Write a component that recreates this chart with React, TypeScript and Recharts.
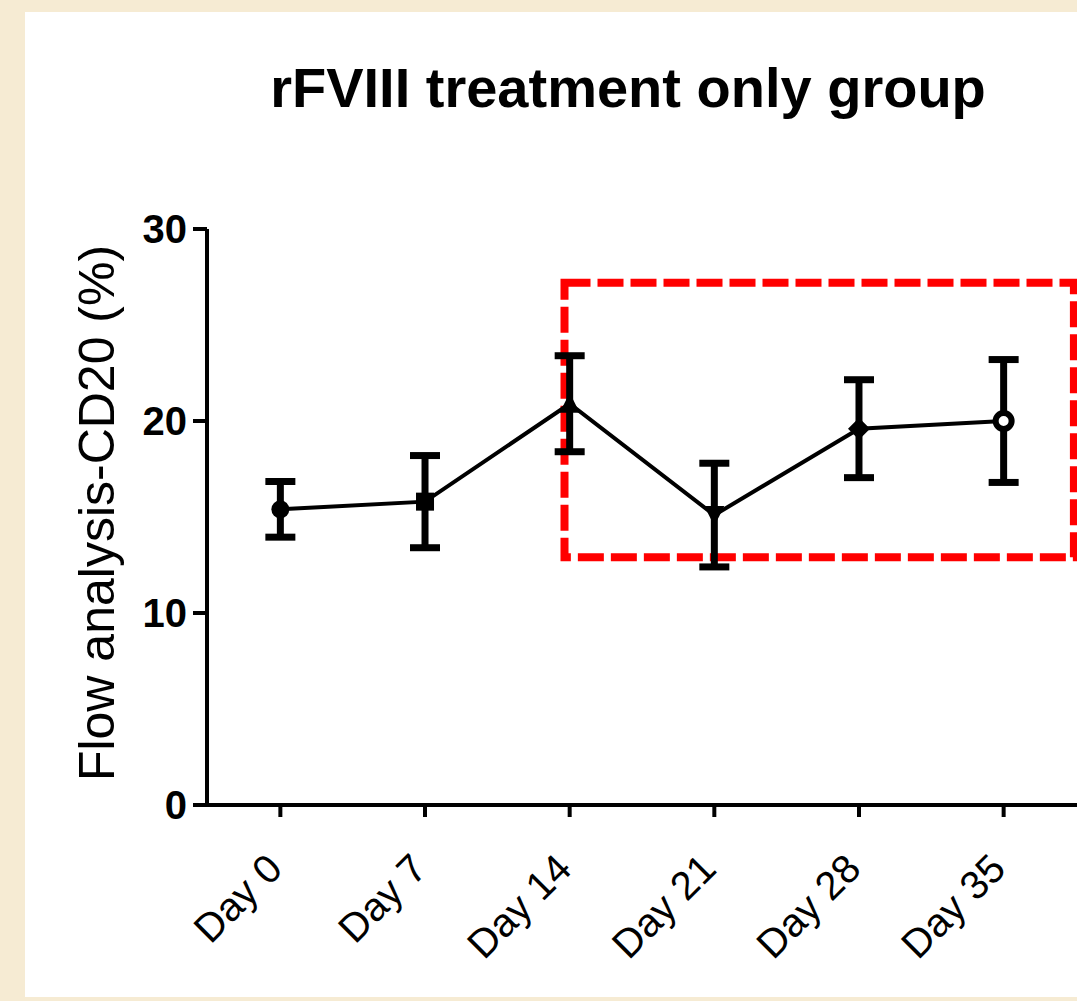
import {
  ErrorBar,
  Line,
  LineChart,
  ReferenceArea,
  XAxis,
  YAxis,
} from "recharts";

const days = [0, 7, 14, 21, 28, 35];
const dayLabels = ["Day 0", "Day 7", "Day 14", "Day 21", "Day 28", "Day 35"];
const cd20 = [15.4, 15.8, 20.9, 15.1, 19.6, 20.0];
const cd20Sem = [1.45, 2.4, 2.5, 2.7, 2.55, 3.2];
const markers = ["circle", "square", "triangle", "triangleDown", "diamond", "openCircle"];
const yTicks = [0, 10, 20, 30];

// highlighted region: Day 14 .. Day 35
const boxX = [13.75, 38.4];
const boxY = [12.9, 27.2];

const FONT = "Arial, 'Liberation Sans', sans-serif";
const data = days.map((d, i) => ({ day: d, value: cd20[i], err: cd20Sem[i] }));

function Marker(props: any) {
  const { cx, cy, index } = props;
  const kind = markers[index];
  const s = 9;
  if (kind === "square") {
    return <rect x={cx - s} y={cy - s} width={s * 2} height={s * 2} fill="#000" />;
  }
  if (kind === "triangle") {
    return (
      <path d={`M${cx},${cy - s - 2}L${cx + s + 1},${cy + s}L${cx - s - 1},${cy + s}Z`} fill="#000" />
    );
  }
  if (kind === "triangleDown") {
    return (
      <path d={`M${cx},${cy + s + 2}L${cx + s + 1},${cy - s}L${cx - s - 1},${cy - s}Z`} fill="#000" />
    );
  }
  if (kind === "diamond") {
    return (
      <path d={`M${cx},${cy - s - 2}L${cx + s + 2},${cy}L${cx},${cy + s + 2}L${cx - s - 2},${cy}Z`} fill="#000" />
    );
  }
  if (kind === "openCircle") {
    return <circle cx={cx} cy={cy} r={s - 1} fill="#fff" stroke="#000" strokeWidth={6} />;
  }
  return <circle cx={cx} cy={cy} r={s} fill="#000" />;
}

function DayTick({ x, y, payload }: any) {
  const i = days.indexOf(payload.value);
  return (
    <g transform={`translate(${x + 4},${y + 52})`}>
      <text
        textAnchor="end"
        transform="rotate(-45)"
        fill="#000"
        fontFamily={FONT}
        fontSize={40}
      >
        {dayLabels[i]}
      </text>
    </g>
  );
}

export default function App() {
  return (
    <div
      style={{
        position: "absolute",
        left: 0,
        top: 0,
        width: 1077,
        height: 1001,
        background: "#F6EBD3",
        overflow: "hidden",
      }}
    >
      <div
        style={{
          position: "absolute",
          left: 25,
          top: 12,
          width: 1052,
          height: 985,
          background: "#fff",
        }}
      />
      <div style={{ position: "absolute", left: 0, top: 0 }}>
        <LineChart
          width={1077}
          height={1001}
          data={data}
          margin={{ top: 229, right: 0, bottom: 46, left: 0 }}
        >
          <XAxis
            dataKey="day"
            type="number"
            domain={[-3.55, 38.55]}
            ticks={days}
            height={150}
            tickSize={12}
            axisLine={{ stroke: "#000", strokeWidth: 4 }}
            tickLine={{ stroke: "#000", strokeWidth: 4 }}
            tick={<DayTick />}
            interval={0}
          />
          <YAxis
            type="number"
            domain={[0, 30]}
            ticks={yTicks}
            width={207}
            tickSize={14}
            tickMargin={6}
            axisLine={{ stroke: "#000", strokeWidth: 4 }}
            tickLine={{ stroke: "#000", strokeWidth: 4 }}
            tick={{ fill: "#000", fontSize: 40, fontWeight: "bold", fontFamily: FONT }}
          />
          <Line
            dataKey="value"
            type="linear"
            stroke="#000"
            strokeWidth={4}
            dot={<Marker />}
            activeDot={false}
            isAnimationActive={false}
          >
            <ErrorBar dataKey="err" width={15} stroke="#000" strokeWidth={7} direction="y" />
          </Line>
          <ReferenceArea
            x1={boxX[0]}
            x2={boxX[1]}
            y1={boxY[0]}
            y2={boxY[1]}
            fill="none"
            fillOpacity={0}
            stroke="#FF0000"
            strokeWidth={8}
            strokeDasharray="26 7"
          />
        </LineChart>
      </div>
      <svg
        width={1077}
        height={1001}
        style={{ position: "absolute", left: 0, top: 0, pointerEvents: "none" }}
      >
        <text
          x={628}
          y={107}
          textAnchor="middle"
          fontFamily={FONT}
          fontWeight="bold"
          fontSize={56}
          fill="#000"
        >
          rFVIII treatment only group
        </text>
        <text
          transform="translate(114,513) rotate(-90)"
          textAnchor="middle"
          fontFamily={FONT}
          fontSize={50}
          fill="#000"
        >
          Flow analysis-CD20 (%)
        </text>
      </svg>
    </div>
  );
}
